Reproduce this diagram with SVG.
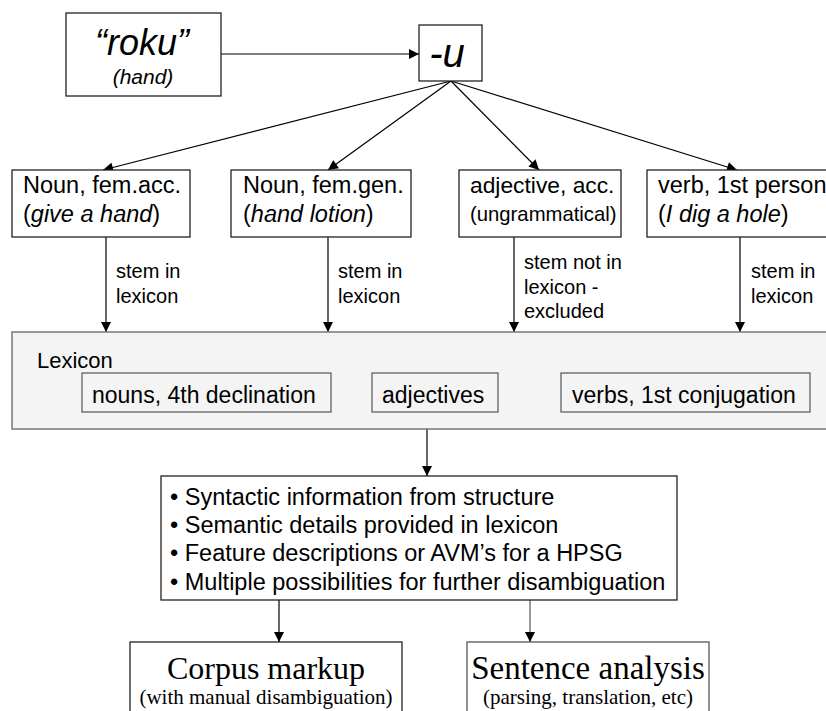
<svg xmlns="http://www.w3.org/2000/svg" width="826" height="711" viewBox="0 0 826 711">
<style>
.box{fill:#fff;stroke:#222;stroke-width:1.3}
.lex{fill:#f4f4f4;stroke:#777;stroke-width:1.5}
.ibox{fill:#f4f4f4;stroke:#555;stroke-width:1.2}
.t{font-family:"Liberation Sans",Arial,sans-serif;fill:#000}
.s{font-family:"Liberation Serif","Times New Roman",serif;fill:#000}
.c{stroke:#000;stroke-width:1.2;fill:none;marker-end:url(#ah)}
.cg{stroke:#777;stroke-width:1.5;fill:none;marker-end:url(#ah)}
</style>
<defs>
<marker id="ah" viewBox="0 0 10 10" refX="10" refY="5" markerUnits="userSpaceOnUse" markerWidth="11" markerHeight="10" orient="auto">
<path d="M0,0 L10,5 L0,10 z" fill="#000"/>
</marker>
</defs>
<rect width="826" height="711" fill="#fff"/>
<g id="connectors">
<line class="c" x1="221" y1="54" x2="419" y2="54"/>
<line class="c" x1="451" y1="81" x2="103" y2="170"/>
<line class="c" x1="451" y1="81" x2="328" y2="170"/>
<line class="c" x1="451" y1="81" x2="539" y2="170"/>
<line class="c" x1="451" y1="81" x2="737" y2="170"/>
<line class="c" x1="106" y1="237" x2="106" y2="332"/>
<line class="c" x1="328" y1="237" x2="328" y2="332"/>
<line class="c" x1="514" y1="237" x2="514" y2="332"/>
<line class="c" x1="740" y1="237" x2="740" y2="332"/>
<line class="c" x1="427" y1="429" x2="427" y2="476"/>
<line class="c" x1="279" y1="600" x2="279" y2="642"/>
<line class="cg" x1="530" y1="600" x2="530" y2="642"/>
<text class="t" font-size="20" x="116" y="278">stem in</text>
<text class="t" font-size="20" x="116" y="303">lexicon</text>
<text class="t" font-size="20" x="338" y="278">stem in</text>
<text class="t" font-size="20" x="338" y="303">lexicon</text>
<text class="t" font-size="20" x="524" y="269">stem not in</text>
<text class="t" font-size="20" x="524" y="294">lexicon -</text>
<text class="t" font-size="20" x="524" y="318">excluded</text>
<text class="t" font-size="20" x="751" y="278">stem in</text>
<text class="t" font-size="20" x="751" y="303">lexicon</text>
</g>
<g id="roku">
<rect class="box" x="66" y="13" width="155" height="83"/>
<text class="t" font-size="36" font-style="italic" x="142" y="55" text-anchor="middle">“roku”</text>
<text class="t" font-size="21" font-style="italic" x="143" y="84" text-anchor="middle">(hand)</text>
</g>
<g id="u">
<rect class="box" x="419" y="25" width="63" height="56"/>
<text class="t" font-size="40" font-style="italic" x="447" y="67" text-anchor="middle">-u</text>
</g>
<g id="noun-acc">
<rect class="box" x="12" y="170" width="178" height="67"/>
<text class="t" font-size="23.5" x="23" y="193">Noun, fem.acc.</text>
<text class="t" font-size="23.5" x="23" y="222">(<tspan font-style="italic">give a hand</tspan>)</text>
</g>
<g id="noun-gen">
<rect class="box" x="231" y="170" width="180" height="67"/>
<text class="t" font-size="23.5" x="243" y="193">Noun, fem.gen.</text>
<text class="t" font-size="23.5" x="243" y="222">(<tspan font-style="italic">hand lotion</tspan>)</text>
</g>
<g id="adjective">
<rect class="box" x="459" y="170" width="162" height="67"/>
<text class="t" font-size="22.8" x="470" y="193">adjective, acc.</text>
<text class="t" font-size="20.3" x="470" y="221">(ungrammatical)</text>
</g>
<g id="verb">
<rect class="box" x="647" y="170" width="200" height="67"/>
<text class="t" font-size="23.5" x="658" y="193">verb, 1st person</text>
<text class="t" font-size="23.5" x="658" y="222">(<tspan font-style="italic">I dig a hole</tspan>)</text>
</g>
<g id="lexicon">
<rect class="lex" x="12" y="332" width="830" height="97"/>
<text class="t" font-size="22" x="37" y="368">Lexicon</text>
<rect class="ibox" x="82" y="373" width="249" height="39"/>
<text class="t" font-size="23" x="92" y="403">nouns, 4th declination</text>
<rect class="ibox" x="372" y="373" width="126" height="39"/>
<text class="t" font-size="23" x="382" y="403">adjectives</text>
<rect class="ibox" x="561" y="373" width="249" height="39"/>
<text class="t" font-size="23" x="572" y="403">verbs, 1st conjugation</text>
</g>
<g id="info">
<rect class="box" x="161" y="476" width="516" height="124"/>
<text class="t" font-size="23.5" x="170" y="505">• Syntactic information from structure</text>
<text class="t" font-size="23.5" x="170" y="533">• Semantic details provided in lexicon</text>
<text class="t" font-size="23.5" x="170" y="561">• Feature descriptions or AVM’s for a HPSG</text>
<text class="t" font-size="23.5" x="170" y="590">• Multiple possibilities for further disambiguation</text>
</g>
<g id="corpus">
<rect class="box" x="130" y="642" width="272" height="90"/>
<text class="s" font-size="32" x="266" y="679" text-anchor="middle">Corpus markup</text>
<text class="s" font-size="21" x="266" y="704" text-anchor="middle">(with manual disambiguation)</text>
</g>
<g id="sentence">
<rect x="467" y="642" width="242" height="90" fill="#fff" stroke="#555" stroke-width="1.3"/>
<text class="s" font-size="33" x="588" y="679" text-anchor="middle">Sentence analysis</text>
<text class="s" font-size="21" x="588" y="704" text-anchor="middle">(parsing, translation, etc)</text>
</g>
</svg>
